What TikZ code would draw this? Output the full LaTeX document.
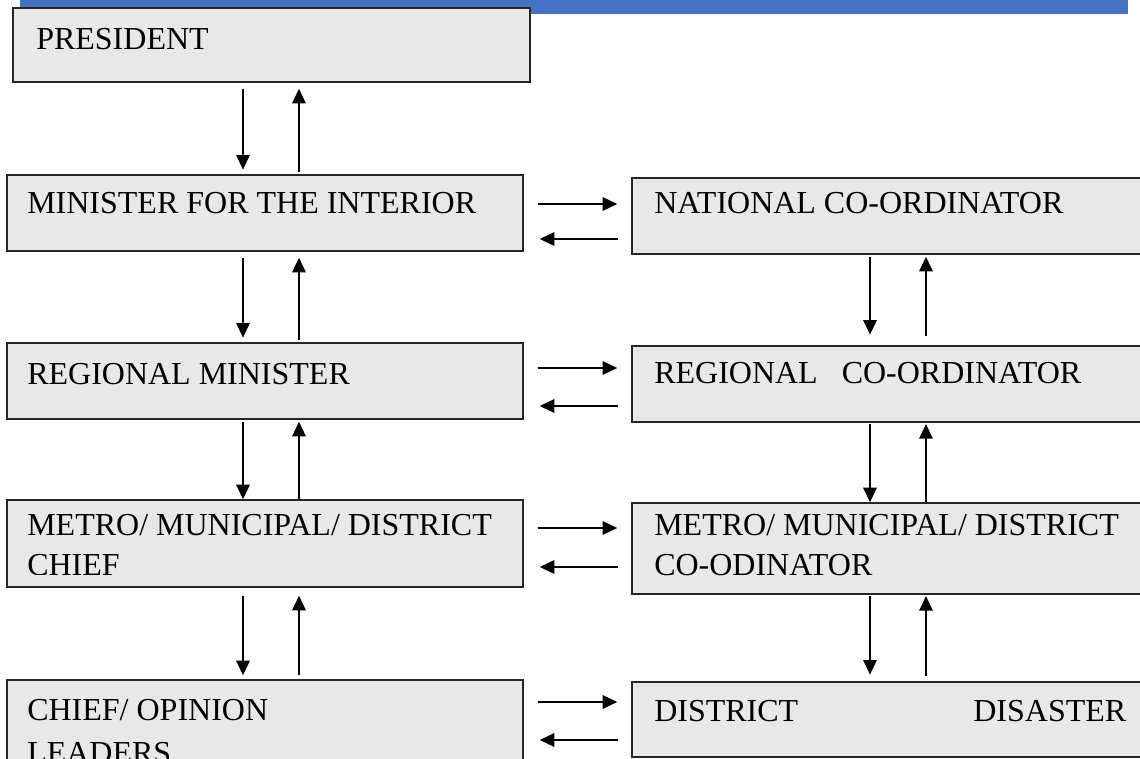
\documentclass[tikz,border=0pt]{standalone}
\usepackage{fontspec}
\setmainfont{Liberation Serif}
\usetikzlibrary{arrows.meta,fit}
\definecolor{barblue}{HTML}{4472C4}
\definecolor{boxfill}{HTML}{E8E8E8}
\definecolor{boxline}{HTML}{262626}
\begin{document}
\begin{tikzpicture}[x=0.75pt,y=-0.75pt,
  box/.style={draw=boxline, line width=1pt, fill=boxfill, inner sep=0pt},
  label/.style={anchor=base west, inner sep=0pt, font=\fontsize{24pt}{28pt}\selectfont},
  flow/.style={line width=1.5pt, -{Triangle[length=11pt,width=10pt]}},
  dn/.style={flow, shorten <=4.5pt, shorten >=3.5pt},
  upw/.style={flow, shorten <=2pt, shorten >=4.5pt},
  rgt/.style={flow, shorten <=10.5pt, shorten >=10.5pt},
  lft/.style={flow, shorten <=9.75pt, shorten >=12pt},
]
\useasboundingbox (0,0) rectangle (1140,758);
\clip (0,0) rectangle (1140,758);
\fill[white] (0,0) rectangle (1140,758);

% heading band
\fill[barblue] (20,0) rectangle (1128,14);

% left column
\node[box, fit={(13,8)(530,82)}] (pres) {};
\node[box, fit={(7,175)(523,251)}] (mint) {};
\node[box, fit={(7,343)(523,419)}] (regm) {};
\node[box, fit={(7,500)(523,587)}] (mmd) {};
\node[box, fit={(7,680)(523,790)}] (chief) {};

% right column
\node[box, fit={(632,178)(1160,254)}] (natc) {};
\node[box, fit={(632,346)(1160,422)}] (regc) {};
\node[box, fit={(632,503)(1160,594)}] (mmdco) {};
\node[box, fit={(632,682)(1160,757)}] (ddis) {};

% box texts
\node[label] (presT) at (36,49) {PRESIDENT};
\node[label] (mintT) at (27,213) {MINISTER FOR THE INTERIOR};
\node[label] (regmT) at (27,384) {REGIONAL MINISTER};
\node[label] (mmdT1) at (27,535) {METRO/ MUNICIPAL/ DISTRICT};
\begin{scope}
  \clip (7,500) rectangle (523,574);
  \node[label] (mmdT2) at (27,575) {CHIEF};
\end{scope}
\node[label] (chiefT1) at (27,720) {CHIEF/ OPINION};
\node[label] (chiefT2) at (27,763) {LEADERS};

\node[label] (natcT) at (654,213) {NATIONAL CO-ORDINATOR};
\node[label] (regcT) at (654,383) {REGIONAL\ \ \ CO-ORDINATOR};
\node[label] (mmdcoT1) at (654,535) {METRO/ MUNICIPAL/ DISTRICT};
\node[label] (mmdcoT2) at (654,575) {CO-ODINATOR};
\node[label] (ddisT) at (654,721) {\makebox[354pt][l]{DISTRICT\hfill DISASTER}};

% columns of the vertical arrows
\coordinate (xLd) at (243,0);
\coordinate (xLu) at (299,0);
\coordinate (xRd) at (870,0);
\coordinate (xRu) at (926,0);

% rows of the horizontal arrows
\coordinate (r1a) at (0,204);  \coordinate (r1b) at (0,239);
\coordinate (r2a) at (0,368);  \coordinate (r2b) at (0,406);
\coordinate (r3a) at (0,528);  \coordinate (r3b) at (0,567);
\coordinate (r4a) at (0,702);  \coordinate (r4b) at (0,740);

% left column links
\draw[dn]  (pres.south -| xLd) -- (mint.north -| xLd);
\draw[upw] (mint.north -| xLu) -- (pres.south -| xLu);
\draw[dn]  (mint.south -| xLd) -- (regm.north -| xLd);
\draw[upw] (regm.north -| xLu) -- (mint.south -| xLu);
\draw[dn, shorten <=1.5pt, shorten >=0pt]  (regm.south -| xLd) -- (mmd.north -| xLd);
\draw[upw, shorten <=0pt, shorten >=1.5pt] (mmd.north -| xLu) -- (regm.south -| xLu);
\draw[dn, shorten <=6pt, shorten >=3pt]  (mmd.south -| xLd) -- (chief.north -| xLd);
\draw[upw, shorten <=3pt, shorten >=6pt] (chief.north -| xLu) -- (mmd.south -| xLu);

% right column links
\draw[dn, shorten <=1.5pt, shorten >=8pt]  (natc.south -| xRd) -- (regc.north -| xRd);
\draw[upw, shorten <=7pt, shorten >=1.5pt] (regc.north -| xRu) -- (natc.south -| xRu);
\draw[dn, shorten <=1pt, shorten >=0pt]  (regc.south -| xRd) -- (mmdco.north -| xRd);
\draw[upw, shorten <=0pt, shorten >=1pt] (mmdco.north -| xRu) -- (regc.south -| xRu);
\draw[dn, shorten <=1pt, shorten >=5pt]  (mmdco.south -| xRd) -- (ddis.north -| xRd);
\draw[upw, shorten <=4pt, shorten >=1pt] (ddis.north -| xRu) -- (mmdco.south -| xRu);

% links between the columns
\draw[rgt] (mint.east |- r1a) -- (natc.west |- r1a);
\draw[lft] (natc.west |- r1b) -- (mint.east |- r1b);
\draw[rgt] (regm.east |- r2a) -- (regc.west |- r2a);
\draw[lft] (regc.west |- r2b) -- (regm.east |- r2b);
\draw[rgt] (mmd.east |- r3a) -- (mmdco.west |- r3a);
\draw[lft] (mmdco.west |- r3b) -- (mmd.east |- r3b);
\draw[rgt] (chief.east |- r4a) -- (ddis.west |- r4a);
\draw[lft] (ddis.west |- r4b) -- (chief.east |- r4b);
\end{tikzpicture}
\end{document}
